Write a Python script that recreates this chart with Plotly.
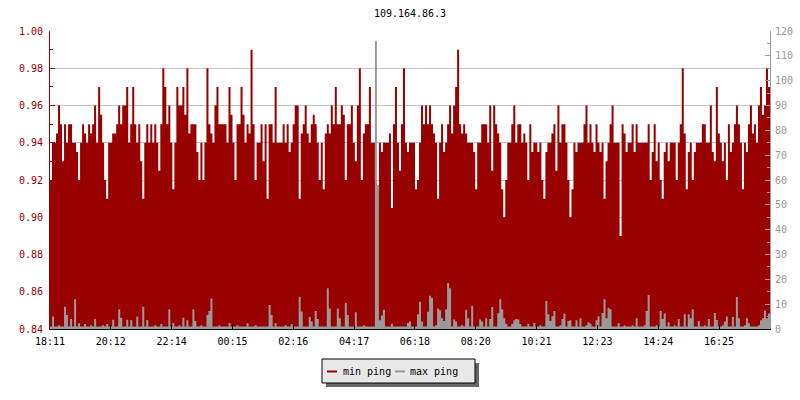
import plotly.graph_objects as go
import pandas as pd

# ---------------- data ----------------
chart_title = "109.164.86.3"
start_time = "2021-01-01 18:11"
sample_minutes = 4

min_ping = [
    0.92, 0.94, 0.94, 0.945, 0.96, 0.95, 0.93, 0.95, 0.94, 0.95,
    0.95, 0.94, 0.94, 0.935, 0.92, 0.94, 0.95, 0.945, 0.94, 0.95,
    0.945, 0.95, 0.96, 0.94, 0.97, 0.955, 0.94, 0.92, 0.91, 0.94,
    0.94, 0.945, 0.945, 0.95, 0.96, 0.95, 0.96, 0.96, 0.97, 0.94,
    0.95, 0.97, 0.95, 0.94, 0.95, 0.93, 0.91, 0.94, 0.95, 0.94,
    0.95, 0.94, 0.95, 0.94, 0.925, 0.95, 0.98, 0.97, 0.95, 0.96,
    0.94, 0.915, 0.94, 0.97, 0.96, 0.96, 0.97, 0.955, 0.98, 0.945,
    0.95, 0.95,
    0.95, 0.935, 0.92, 0.94, 0.92, 0.94, 0.98, 0.95, 0.945, 0.94,
    0.96, 0.97, 0.95, 0.95, 0.95, 0.95, 0.94, 0.97, 0.955, 0.94,
    0.92, 0.95, 0.95, 0.97, 0.955, 0.94, 0.95, 0.945, 0.99, 0.95,
    0.92, 0.94, 0.94, 0.95, 0.93, 0.95, 0.91, 0.95, 0.95, 0.94,
    0.97, 0.94, 0.94, 0.94, 0.95, 0.94, 0.95, 0.935, 0.94, 0.95,
    0.96, 0.96, 0.91, 0.945, 0.95, 0.96, 0.945, 0.94, 0.95, 0.955,
    0.95, 0.94, 0.92, 0.94, 0.915, 0.945, 0.95, 0.945, 0.96, 0.95,
    0.97, 0.95,
    0.95, 0.96, 0.955, 0.92, 0.95, 0.95, 0.96, 0.94, 0.93, 0.96,
    0.98, 0.92, 0.945, 0.95, 0.95, 0.97, 0.94, 0.94, 0.92, 0.915,
    0.94, 0.935, 0.94, 0.94, 0.94, 0.945, 0.905, 0.95, 0.97, 0.94,
    0.925, 0.95, 0.98, 0.94, 0.935, 0.94, 0.94, 0.94, 0.915, 0.92,
    0.94, 0.96, 0.95, 0.96, 0.95, 0.96, 0.95, 0.945, 0.94, 0.91,
    0.94, 0.95, 0.935, 0.94, 0.95, 0.96, 0.945, 0.96, 0.97, 0.99,
    0.95, 0.945, 0.95, 0.945, 0.94, 0.94, 0.94, 0.935, 0.915, 0.94,
    0.94, 0.95,
    0.95, 0.95, 0.94, 0.96, 0.925, 0.96, 0.95, 0.945, 0.94, 0.915,
    0.90, 0.92, 0.94, 0.94, 0.95, 0.96, 0.94, 0.95, 0.95, 0.94,
    0.945, 0.94, 0.92, 0.95, 0.935, 0.94, 0.94, 0.935, 0.94, 0.92,
    0.91, 0.935, 0.94, 0.94, 0.945, 0.95, 0.925, 0.96, 0.94, 0.95,
    0.95, 0.94, 0.92, 0.90, 0.915, 0.94, 0.935, 0.94, 0.94, 0.94,
    0.95, 0.96, 0.94, 0.95, 0.94, 0.935, 0.95, 0.94, 0.935, 0.94,
    0.91, 0.93, 0.94, 0.95, 0.96, 0.94, 0.94, 0.94, 0.89, 0.95,
    0.945, 0.935,
    0.94, 0.94, 0.95, 0.935, 0.95, 0.94, 0.94, 0.94, 0.94, 0.94,
    0.95, 0.92, 0.935, 0.95, 0.93, 0.94, 0.92, 0.91, 0.935, 0.94,
    0.93, 0.94, 0.94, 0.94, 0.92, 0.94, 0.95, 0.98, 0.945, 0.915,
    0.935, 0.94, 0.92, 0.935, 0.94, 0.94, 0.94, 0.95, 0.95, 0.94,
    0.94, 0.96, 0.935, 0.93, 0.97, 0.945, 0.94, 0.93, 0.94, 0.92,
    0.95, 0.935, 0.94, 0.95, 0.96, 0.95, 0.94, 0.915, 0.94, 0.935,
    0.95, 0.96, 0.945, 0.95, 0.94, 0.96, 0.97, 0.955, 0.96, 0.98,
    0.97, 0.95,
]

max_ping = [
    1, 5, 1, 1, 1.5, 1, 1, 9, 5.6, 1,
    4, 1, 12, 1, 2.3, 1, 1, 2, 1, 1,
    1.5, 1, 4, 1, 1, 1, 1.5, 1, 2, 1,
    1, 3.7, 1, 1, 8, 4.5, 1, 1, 3.7, 1,
    3.6, 1, 1, 5, 1, 1, 9, 1, 3.6, 1,
    1, 1, 1.5, 1, 1, 2, 1, 1, 1, 8,
    1, 2.4, 1, 1, 1.5, 1, 4.5, 1, 3.5, 1,
    1, 8,
    3.2, 1, 1, 1.5, 1, 1, 5.6, 7.2, 12.3, 1,
    1, 1, 1.5, 1, 1, 1, 1, 2.4, 1, 1,
    1, 1.5, 1, 1, 1, 1, 2.3, 1, 1, 1,
    1.5, 1, 1, 1, 1, 1, 1, 9.7, 5.6, 1,
    2.3, 1, 1, 1, 1, 1.5, 1, 1, 2, 1,
    1, 1, 13, 7, 1, 1, 1, 4.8, 3, 1,
    7.2, 4, 1, 1, 1, 1, 16.4, 8.3, 1, 1,
    1, 8.3,
    4.3, 1, 1, 10.5, 5.6, 1, 1, 1, 6.7, 1,
    1, 1, 1.5, 1, 1, 1, 1, 1, 116, 58,
    3.5, 5.4, 7.8, 1, 1, 1, 2.1, 1, 1, 1,
    1, 1, 1, 1, 2.4, 3, 1, 1, 1, 5.9,
    11, 3, 1, 1, 6.9, 13.4, 12.6, 1, 1.5, 8.3,
    7.6, 4.3, 3.2, 8, 18.5, 16.4, 1, 3.8, 3, 1,
    1, 1.5, 1, 7.8, 4.3, 1, 9.4, 1, 1, 1,
    3.8, 3,
    1, 4.3, 1, 4, 8.9, 1, 1, 6.3, 12, 8,
    4.3, 2.1, 1, 1, 2.1, 3.5, 4, 3.8, 2, 1,
    1, 1, 2.1, 1, 1, 2.4, 1, 1, 1.5, 1,
    1, 11.3, 5.9, 3.2, 5.1, 7.2, 1, 1, 1.5, 4,
    6.2, 1, 3.2, 3.5, 1, 1, 3.5, 1, 4.3, 1,
    1, 1.5, 2.7, 2.1, 1, 1, 3.5, 5.1, 1, 6.4,
    12, 4.3, 8.6, 8, 1, 1, 1, 2.4, 1, 1,
    1.5, 1,
    1, 1, 1.5, 1, 4.3, 1, 1, 1, 1.5, 7.2,
    13.7, 1, 1, 1, 1.5, 1, 7.2, 4, 6.2, 1,
    2.7, 1, 1, 1.5, 1, 4, 1, 1, 5.9, 1,
    5.9, 4.3, 8, 1, 1, 3.2, 1, 1, 1.5, 1,
    4, 1, 1, 6.4, 3.6, 1, 1, 1.5, 3, 5,
    1, 1, 4.8, 1, 12.9, 4.3, 1, 1, 1.5, 4.3,
    2.3, 1, 1, 1, 1, 1.5, 3.5, 4.3, 7.5, 4.3,
    6.2, 4.8,
]

tick_labels = ["18:11", "20:12", "22:14", "00:15", "02:16", "04:17",
               "06:18", "08:20", "10:21", "12:23", "14:24", "16:25"]
tick_step_minutes = 121.3
series_names = ["min ping", "max ping"]

# ---------------- style ----------------
RED = "#990000"
GRAY = "#999999"
FONT = "DejaVu Sans Mono"
W, H = 800, 400
L, R, T, B = 50, 30, 31, 71
PW, PH = W - L - R, H - T - B


def px(x):
    return (x - L) / PW


def py(y):
    return (H - B - y) / PH


times = pd.date_range(start_time, periods=len(min_ping), freq=f"{sample_minutes}min")
t0 = pd.Timestamp(start_time)
tickvals = [t0 + pd.Timedelta(minutes=tick_step_minutes * k) for k in range(len(tick_labels))]

fig = go.Figure()
fig.add_trace(go.Scatter(
    x=times, y=min_ping, name=series_names[0], mode="lines",
    line=dict(width=0, shape="hv", color=RED), fill="tozeroy", fillcolor=RED,
    showlegend=False, yaxis="y", hoverinfo="skip"))
fig.add_trace(go.Scatter(
    x=times, y=max_ping, name=series_names[1], mode="lines",
    line=dict(width=0, shape="hv", color=GRAY), fill="tozeroy", fillcolor=GRAY,
    showlegend=False, yaxis="y2", hoverinfo="skip"))

fig.update_layout(
    width=W, height=H,
    margin=dict(l=L, r=R, t=T, b=B, autoexpand=False),
    paper_bgcolor="white", plot_bgcolor="white",
    font=dict(family=FONT, size=10, color="black"),
    title=dict(text=chart_title, x=0.5, xref="paper", y=1 - 13 / H, yref="container",
               yanchor="middle", xanchor="center", font=dict(family=FONT, size=10, color="black")),
    xaxis=dict(
        type="date", range=[times[0], times[-1]], automargin=False,
        tickmode="array", tickvals=tickvals, ticktext=tick_labels,
        showline=True, linecolor="black", linewidth=1,
        ticks="inside", ticklen=4, tickcolor="black", ticklabelstandoff=3,
        showgrid=False, zeroline=False,
        tickfont=dict(family=FONT, size=10, color="black"),
    ),
    yaxis=dict(
        range=[0.84, 1.0], dtick=0.02, tick0=0.84, tickformat=".2f", automargin=False,
        showline=True, linecolor=RED, linewidth=1,
        ticks="inside", ticklen=5, tickcolor=RED, ticklabelstandoff=4,
        minor=dict(dtick=0.01, ticks="inside", ticklen=3, tickcolor=RED, showgrid=False),
        showgrid=True, gridcolor="#c4c4c4", gridwidth=1, zeroline=False,
        tickfont=dict(family=FONT, size=10, color=RED),
    ),
    yaxis2=dict(
        range=[0, 120], dtick=10, overlaying="y", side="right", automargin=False,
        showline=True, linecolor=GRAY, linewidth=1,
        ticks="inside", ticklen=5, tickcolor=GRAY, ticklabelstandoff=2,
        minor=dict(dtick=5, ticks="inside", ticklen=3, tickcolor=GRAY, showgrid=False),
        showgrid=False, zeroline=False,
        tickfont=dict(family=FONT, size=10, color=GRAY),
    ),
    showlegend=False,
    hovermode=False,
)

# manual legend box with shadow
shapes = [
    dict(type="rect", xref="paper", yref="paper", x0=px(326), x1=px(479), y0=py(387), y1=py(363),
         fillcolor="#666666", line=dict(width=0), layer="above"),
    dict(type="rect", xref="paper", yref="paper", x0=px(322), x1=px(475), y0=py(383), y1=py(359),
         fillcolor="#e8e8e8", line=dict(color="black", width=1), layer="above"),
    dict(type="line", xref="paper", yref="paper", x0=px(327), x1=px(337), y0=py(371.5), y1=py(371.5),
         line=dict(color=RED, width=2), layer="above"),
    dict(type="line", xref="paper", yref="paper", x0=px(395), x1=px(405), y0=py(371.5), y1=py(371.5),
         line=dict(color=GRAY, width=2), layer="above"),
]
annotations = [
    dict(text=series_names[0], xref="paper", yref="paper", x=px(341), y=py(371), xanchor="left",
         yanchor="middle", showarrow=False, font=dict(family=FONT, size=10, color="black")),
    dict(text=series_names[1], xref="paper", yref="paper", x=px(408), y=py(371), xanchor="left",
         yanchor="middle", showarrow=False, font=dict(family=FONT, size=10, color="black")),
]
fig.update_layout(shapes=shapes, annotations=annotations)

fig.write_html("out.html", config={"displayModeBar": False},
               post_script="document.body.style.margin='0px';")
